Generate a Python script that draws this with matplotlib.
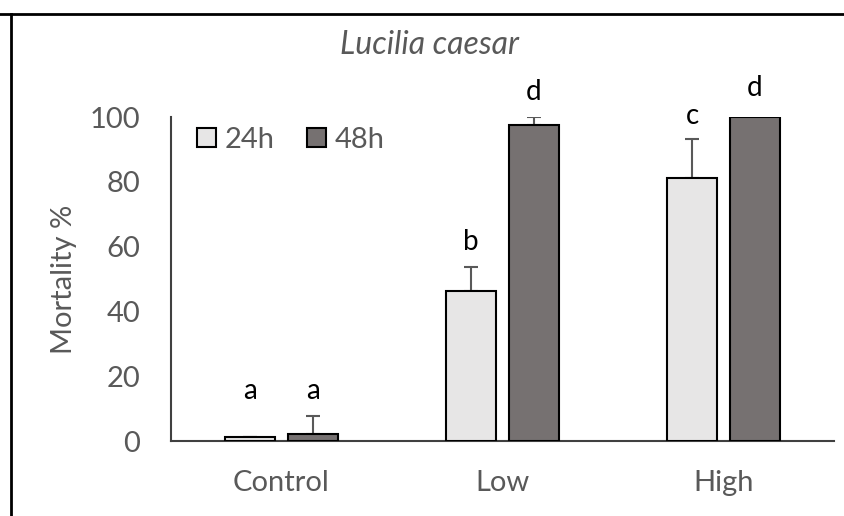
import matplotlib
matplotlib.use("Agg")
import matplotlib.pyplot as plt
import numpy as np
from matplotlib.lines import Line2D

categories = ["Control", "Low", "High"]
series_names = ["24h", "48h"]
mean_24h = [1.1, 46.3, 81.3]
mean_48h = [2.3, 97.5, 100.0]
err_24h = [0.0, 7.3, 11.9]
err_48h = [5.4, 2.4, 0.0]
letters_24h = ["a", "b", "c"]
letters_48h = ["a", "d", "d"]
letter_y_24h = [15.5, 61.4, 100.3]
letter_y_48h = [15.5, 107.7, 109.0]
yticks = [0, 20, 40, 60, 80, 100]

plt.rcParams['font.family'] = ['Lato', 'DejaVu Sans']
GRAY = '#595959'
C24 = '#e7e6e6'
C48 = '#767171'
FS = 21

W, H = 844, 516
fig = plt.figure(figsize=(W / 100, H / 100), dpi=100)
ax = fig.add_axes([171 / W, (H - 441) / H, (834 - 171) / W, 324 / H])

x = np.arange(len(categories))
bw = 0.226
off = 0.1425
ax.bar(x - off, mean_24h, bw, color=C24, edgecolor='black', linewidth=1.5, label=series_names[0], zorder=3)
ax.bar(x + off, mean_48h, bw, color=C48, edgecolor='black', linewidth=1.5, label=series_names[1], zorder=3)
ax.errorbar(x - off, mean_24h, yerr=[np.zeros(3), err_24h], fmt='none', ecolor=GRAY,
            elinewidth=1.5, capsize=5, capthick=1.5, zorder=2)
ax.errorbar(x + off, mean_48h, yerr=[np.zeros(3), err_48h], fmt='none', ecolor=GRAY,
            elinewidth=1.5, capsize=5, capthick=1.5, zorder=2)

for i in range(len(categories)):
    ax.text(x[i] - off, letter_y_24h[i], letters_24h[i], ha='center', va='center', fontsize=20, color='black')
    ax.text(x[i] + off, letter_y_48h[i], letters_48h[i], ha='center', va='center', fontsize=20, color='black')

ax.set_xlim(-0.5, 2.5)
ax.set_ylim(0, 100)
ax.set_yticks(yticks)
ax.set_xticks(x)
ax.set_xticklabels(categories)
ax.tick_params(axis='both', length=0, labelsize=FS, colors=GRAY)
ax.tick_params(axis='y', pad=22)
ax.tick_params(axis='x', pad=21)
for s in ['top', 'right']:
    ax.spines[s].set_visible(False)
for s in ['left', 'bottom']:
    ax.spines[s].set_color('#404040')
    ax.spines[s].set_linewidth(1.5)
ax.spines['left'].set_zorder(4)
ax.set_ylabel("Mortality %", fontsize=FS, color=GRAY, va='center')
ax.yaxis.set_label_coords((64 - 171) / 663, 0.5)

fig.text(430 / W, 1 - 45 / H, "Lucilia caesar", ha='center', va='center', fontsize=23,
         color=GRAY, style='italic')

leg = ax.legend(loc='center left', bbox_to_anchor=((197 - 171) / 663, (441 - 140) / 324), ncol=2,
                frameon=False, fontsize=FS, handlelength=0.65, handleheight=0.65, handletextpad=0.3,
                columnspacing=1.1, labelcolor=GRAY, borderaxespad=0, borderpad=0)

# outer frame (top and left)
fig.add_artist(Line2D([0, 1], [1 - 13.5 / H, 1 - 13.5 / H], transform=fig.transFigure, color='black', lw=2))
fig.add_artist(Line2D([11 / W, 11 / W], [0, 1 - 13.5 / H], transform=fig.transFigure, color='black', lw=2))

fig.savefig("out.png", dpi=100)
